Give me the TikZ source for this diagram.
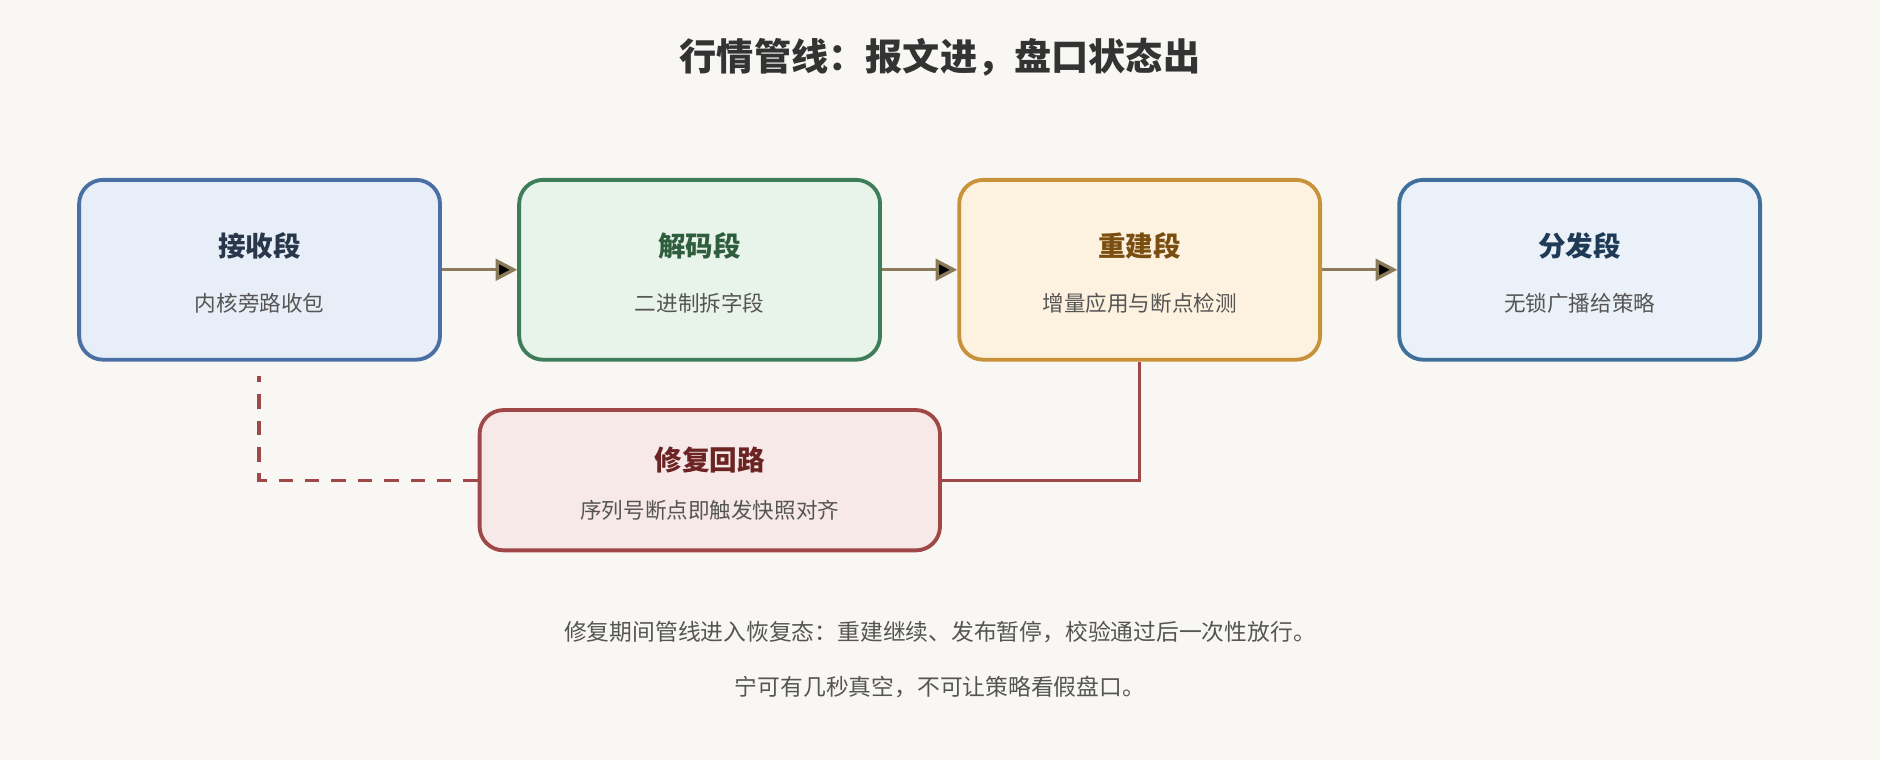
\documentclass[tikz,border=0pt]{standalone}
\usepackage{fontspec}
\setmainfont{Noto Sans CJK SC}
\usepackage{tikz}
\usetikzlibrary{arrows.meta}

\definecolor{bg}{HTML}{F9F7F3}
\definecolor{arr}{HTML}{8A7A5A}
\definecolor{txt}{HTML}{555555}

\tikzset{
	stage/.style={draw, line width=1.6pt, rounded corners=10pt, minimum width=150.5pt, minimum height=75pt},
	ttl/.style={font=\bfseries\fontsize{11.5}{13}\selectfont},
	sub/.style={font=\fontsize{9}{11}\selectfont, text=txt},
	flow/.style={-{Triangle[length=9pt,width=9pt]}, line width=1.4pt, draw=arr},
}

\begin{document}
\begin{tikzpicture}[x=0.5pt, y=-0.5pt]

	\fill[bg] (0,0) rectangle (1568,634);
	\useasboundingbox (0,0) rectangle (1568,634);

	\node[font=\bfseries\fontsize{15.5}{18}\selectfont, text=black!80] (title) at (784, 48) {行情管线：报文进，盘口状态出};

	\node[stage, draw={rgb,255:red,74;green,111;blue,165}, fill={rgb,255:red,232;green,238;blue,248}] (recv) at (216.5, 225) {};
	\node[stage, draw={rgb,255:red,62;green,125;blue,90}, fill={rgb,255:red,232;green,243;blue,234}] (dec) at (583.5, 225) {};
	\node[stage, draw={rgb,255:red,200;green,146;blue,58}, fill={rgb,255:red,253;green,242;blue,223}] (rebuild) at (950.5, 225) {};
	\node[stage, draw={rgb,255:red,63;green,111;blue,154}, fill={rgb,255:red,234;green,241;blue,248}] (dist) at (1317.5, 225) {};
	\node[stage, minimum width=192pt, minimum height=58.5pt, draw={rgb,255:red,160;green,72;blue,72}, fill={rgb,255:red,246;green,233;blue,232}] (repair) at (592, 400.5) {};

	\node[ttl, text={rgb,255:red,40;green,55;blue,75}] (recv-t) at (216.5, 205) {接收段};
	\node[sub] (recv-s) at (216.5, 253) {内核旁路收包};
	\node[ttl, text={rgb,255:red,46;green,94;blue,62}] (dec-t) at (583.5, 205) {解码段};
	\node[sub] (dec-s) at (583.5, 253) {二进制拆字段};
	\node[ttl, text={rgb,255:red,122;green,78;blue,16}] (rebuild-t) at (950.5, 205) {重建段};
	\node[sub] (rebuild-s) at (950.5, 253) {增量应用与断点检测};
	\node[ttl, text={rgb,255:red,31;green,58;blue,85}] (dist-t) at (1317.5, 205) {分发段};
	\node[sub] (dist-s) at (1317.5, 253) {无锁广播给策略};
	\node[ttl, text={rgb,255:red,107;green,35;blue,35}] (repair-t) at (592, 384) {修复回路};
	\node[sub] (repair-s) at (592, 426) {序列号断点即触发快照对齐};

	\path[flow] (recv) edge (dec);
	\path[flow] (dec) edge (rebuild);
	\path[flow] (rebuild) edge (dist);

	\coordinate (gap) at (216, 314);
	\draw[line width=1.4pt, draw={rgb,255:red,160;green,72;blue,72}] (rebuild.south) |- (repair.east);
	\draw[line width=1.4pt, dashed, dash pattern=on 6pt off 5pt, draw={rgb,255:red,160;green,72;blue,72}] (repair.west) -| (gap);

	\node[sub, font=\fontsize{9.5}{11}\selectfont] (note1) at (784, 527) {修复期间管线进入恢复态：重建继续、发布暂停，校验通过后一次性放行。};
	\node[sub, font=\fontsize{9.5}{11}\selectfont] (note2) at (784, 573) {宁可有几秒真空，不可让策略看假盘口。};

\end{tikzpicture}
\end{document}
